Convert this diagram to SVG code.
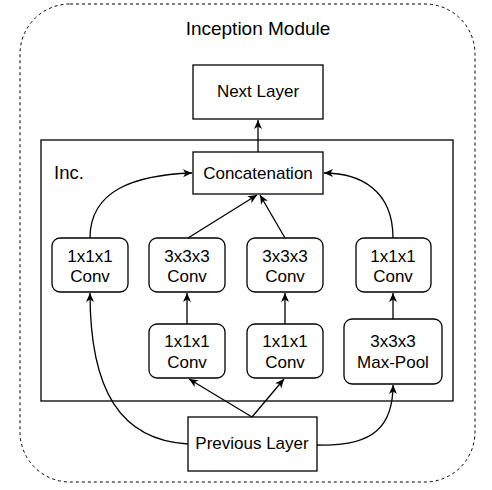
<svg xmlns="http://www.w3.org/2000/svg" width="492" height="490" viewBox="0 0 492 490">
<style>
.box{fill:#fff;stroke:#000;stroke-width:1.3}
.t{font-family:"Liberation Sans",Arial,sans-serif;font-size:17px;fill:#000;text-anchor:middle}
.c{fill:none;stroke:#000;stroke-width:1.3;marker-end:url(#a)}
</style>
<defs>
<marker id="a" markerUnits="userSpaceOnUse" markerWidth="12" markerHeight="12" viewBox="0 0 12 12" refX="10" refY="6" orient="auto">
<path d="M1,2 L10,6 L1,10 L3.5,6 z" fill="#000"/>
</marker>
</defs>
<rect x="20" y="4" width="455" height="478" rx="50" ry="50" fill="#fff" stroke="#000" stroke-width="1" stroke-dasharray="3 3"/>
<text class="t" x="258" y="35" style="font-size:19px">Inception Module</text>
<g id="inc">
<rect class="box" x="41" y="140" width="412" height="261"/>
<text class="t" x="54" y="179" style="text-anchor:start;font-size:18.5px">Inc.</text>
</g>
<g id="next"><rect class="box" x="193" y="65" width="130" height="54"/><text class="t" x="258" y="97">Next Layer</text></g>
<g id="concat"><rect class="box" x="193" y="152" width="130" height="42"/><text class="t" x="258" y="179">Concatenation</text></g>
<g id="c1"><rect class="box" x="52" y="238" width="76" height="54" rx="8"/><text class="t" x="90" y="262">1x1x1</text><text class="t" x="90" y="282">Conv</text></g>
<g id="c2"><rect class="box" x="149" y="238" width="76" height="54" rx="8"/><text class="t" x="187" y="262">3x3x3</text><text class="t" x="187" y="282">Conv</text></g>
<g id="c3"><rect class="box" x="247" y="238" width="76" height="54" rx="8"/><text class="t" x="285" y="262">3x3x3</text><text class="t" x="285" y="282">Conv</text></g>
<g id="c4"><rect class="box" x="356" y="238" width="75" height="54" rx="8"/><text class="t" x="393" y="262">1x1x1</text><text class="t" x="393" y="282">Conv</text></g>
<g id="r2"><rect class="box" x="149" y="324" width="76" height="54" rx="8"/><text class="t" x="187" y="347">1x1x1</text><text class="t" x="187" y="368">Conv</text></g>
<g id="r3"><rect class="box" x="247" y="324" width="76" height="54" rx="8"/><text class="t" x="285" y="347">1x1x1</text><text class="t" x="285" y="368">Conv</text></g>
<g id="pool"><rect class="box" x="344" y="319" width="98" height="65" rx="8"/><text class="t" x="393" y="347">3x3x3</text><text class="t" x="393" y="368">Max-Pool</text></g>
<g id="prev"><rect class="box" x="188" y="417" width="129" height="54"/><text class="t" x="252" y="449">Previous Layer</text></g>
<g id="connectors">
<path class="c" d="M258 152 L258 120"/>
<path class="c" d="M90 238 C90 190 135 175 192 173"/>
<path class="c" d="M393 238 C393 190 360 173 324 173"/>
<path class="c" d="M188 238 L257 195"/>
<path class="c" d="M285 238 L260 195"/>
<path class="c" d="M187 324 L187 293"/>
<path class="c" d="M285 324 L285 293"/>
<path class="c" d="M393 319 L393 293"/>
<path class="c" d="M252 417 L189 379"/>
<path class="c" d="M252 417 L284 379"/>
<path class="c" d="M188 444 C120 440 90 390 90 293"/>
<path class="c" d="M317 445 C375 447 393 425 393 385"/>
</g>
</svg>
